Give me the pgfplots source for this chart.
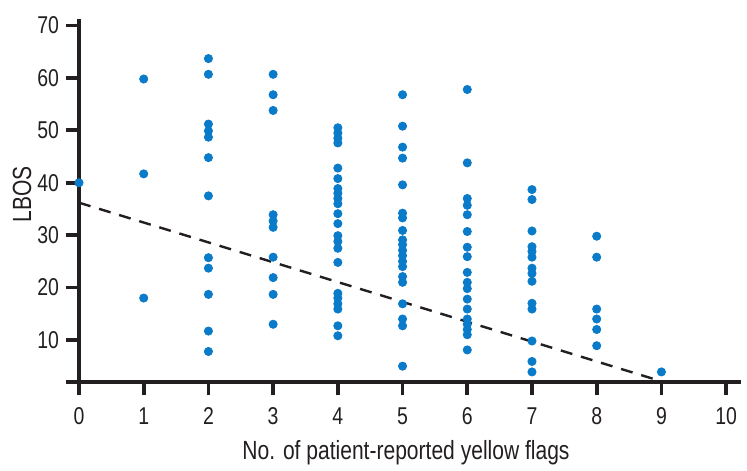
\documentclass[border=0pt]{standalone}
\usepackage{pgfplots}
\pgfplotsset{compat=1.18}
\usepackage{fontspec}
\setmainfont{Liberation Sans}[FakeStretch=0.8]
\definecolor{dotblue}{HTML}{0A7BC8}
\definecolor{ink}{HTML}{231F20}
\begin{document}
\begin{tikzpicture}
\begin{axis}[
  scale only axis, width=331bp, height=181.5bp,
  xmin=0, xmax=10.23, ymin=1.92, ymax=71.2,
  axis lines=left,
  axis line style={line width=2bp, color=ink, -},
  x axis line style={shorten <=-6.5bp},
  xtick={0,1,...,10}, ytick={10,20,...,70},
  tick align=outside, major tick length=6.5bp,
  tick style={line width=1.9bp, color=ink},
  /pgf/number format/assume math mode=true,
  tick label style={font=\fontsize{12.2}{14}\selectfont, text=ink},
  xticklabel style={yshift=-2.5bp},
  xlabel={No. of patient-reported yellow flags},
  ylabel={LBOS},
  label style={font=\fontsize{13.2}{15}\selectfont, text=ink},
  xlabel style={at={(axis description cs:0.494,0)}, yshift=-35bp, anchor=center},
  ylabel style={at={(axis description cs:-0.0861,0.517)}, anchor=center},
  clip=false,
]
\addplot[only marks, mark=*, mark size=2.05bp, dotblue, mark options={draw=none, fill=dotblue}] coordinates {
 (0,40)
 (1,59.8) (1,41.7) (1,18)
 (2,63.7) (2,60.7) (2,51.2) (2,49.9) (2,48.7) (2,44.8) (2,37.5) (2,25.7) (2,23.7) (2,18.7) (2,11.7) (2,7.8)
 (3,60.7) (3,56.8) (3,53.8) (3,33.9) (3,32.7) (3,31.5) (3,25.8) (3,21.9) (3,18.7) (3,13)
 (4,50.5) (4,49.5) (4,48.5) (4,47.6) (4,42.8) (4,40.8) (4,38.9) (4,38) (4,37) (4,36) (4,34.1) (4,32.2) (4,29.9) (4,28.8) (4,27.5) (4,24.8) (4,18.9) (4,18) (4,16.9) (4,15.9) (4,12.7) (4,10.8)
 (5,56.8) (5,50.8) (5,46.8) (5,44.7) (5,39.6) (5,34.2) (5,33.3) (5,30.9) (5,29.1) (5,28.2) (5,27.1) (5,26.1) (5,25) (5,24) (5,22.1) (5,21) (5,16.9) (5,14) (5,12.7) (5,5)
 (6,57.8) (6,43.8) (6,37) (6,35.7) (6,33.9) (6,30.7) (6,27.7) (6,25.9) (6,22.9) (6,21) (6,19.8) (6,17.8) (6,15.9) (6,14) (6,13) (6,12) (6,11) (6,8.1)
 (7,38.7) (7,36.8) (7,30.8) (7,27.8) (7,26.9) (7,25.8) (7,23.7) (7,22.7) (7,21.2) (7,17) (7,15.9) (7,9.8) (7,5.9) (7,3.9)
 (8,29.8) (8,25.8) (8,15.9) (8,14) (8,12) (8,8.9)
 (9,3.9)
};
\addplot[ink, line width=1.2bp, dash pattern=on 6bp off 4.5bp, no marks] coordinates {(0,36.2) (8.87,2.6)};
\end{axis}
\pgfresetboundingbox
\path[use as bounding box] ([xshift=-39.5bp,yshift=-44.35bp]current axis.south west) rectangle ([xshift=3bp,yshift=9.65bp]current axis.north east);
\end{tikzpicture}
\end{document}
